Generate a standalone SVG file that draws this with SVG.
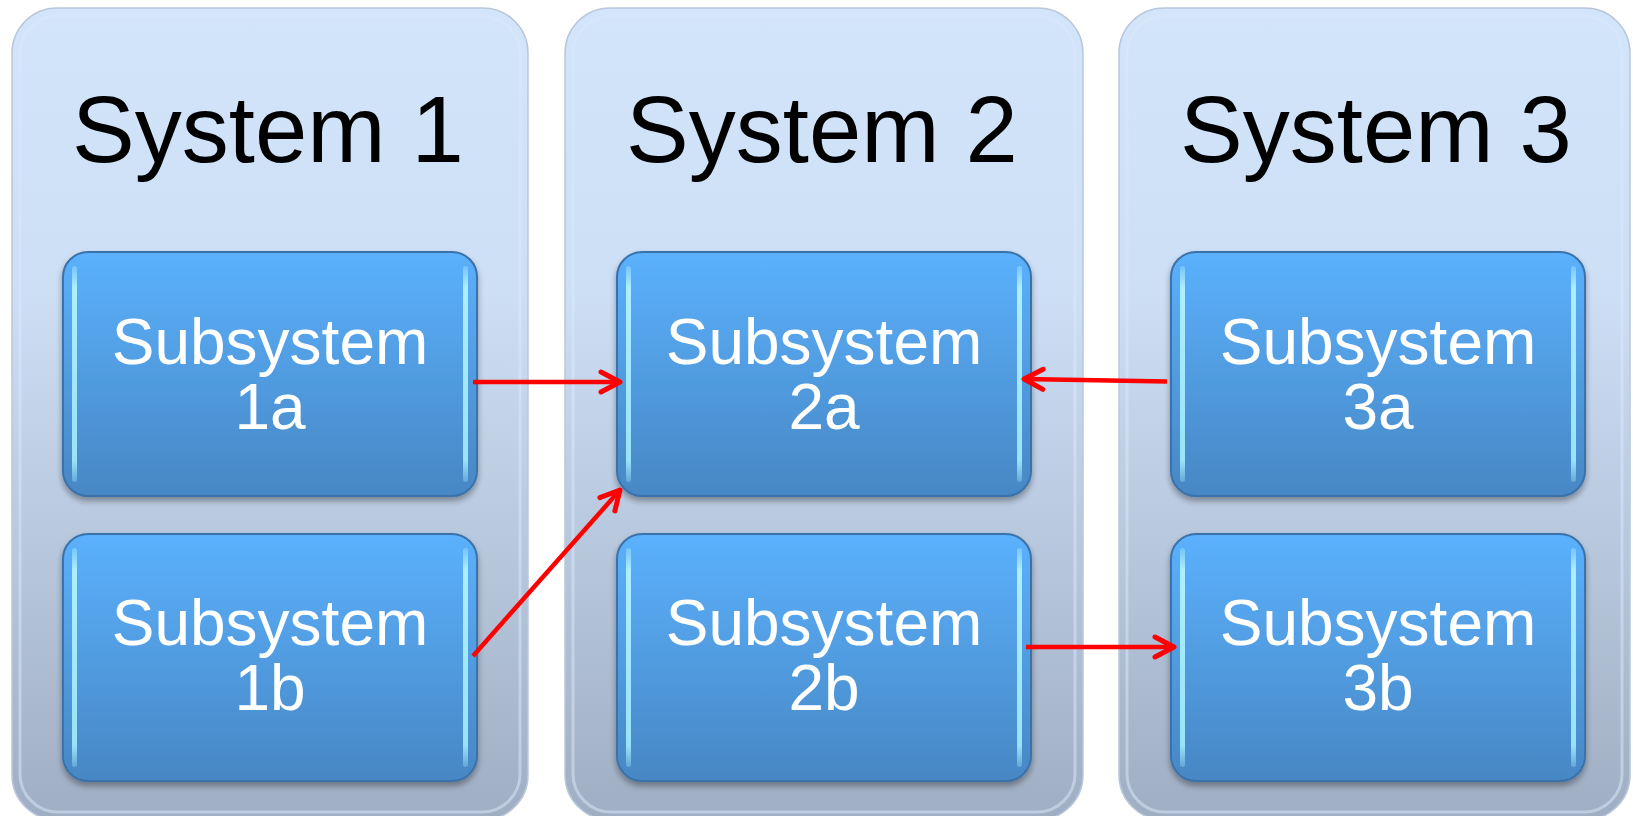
<svg xmlns="http://www.w3.org/2000/svg" width="1633" height="816" viewBox="0 0 1633 816">
  <defs>
    <linearGradient id="panelGrad" x1="0" y1="0" x2="0" y2="1">
      <stop offset="0" stop-color="#d3e5fb"/>
      <stop offset="0.35" stop-color="#cddff5"/>
      <stop offset="1" stop-color="#a0aec3"/>
    </linearGradient>
    <linearGradient id="boxGrad" x1="0" y1="0" x2="0" y2="1">
      <stop offset="0" stop-color="#5bb1fd"/>
      <stop offset="1" stop-color="#4787c4"/>
    </linearGradient>
    <linearGradient id="hlGrad" x1="0" y1="0" x2="0" y2="1">
      <stop offset="0" stop-color="#b6f6ff" stop-opacity="0.3"/>
      <stop offset="0.1" stop-color="#b6f6ff" stop-opacity="0.9"/>
      <stop offset="0.9" stop-color="#a2ecff" stop-opacity="0.9"/>
      <stop offset="1" stop-color="#a2ecff" stop-opacity="0.3"/>
    </linearGradient>
    <filter id="shadow" x="-10%" y="-10%" width="120%" height="125%">
      <feGaussianBlur in="SourceAlpha" stdDeviation="3"/>
      <feOffset dx="0" dy="4" result="b"/>
      <feComponentTransfer><feFuncA type="linear" slope="0.35"/></feComponentTransfer>
      <feMerge><feMergeNode/><feMergeNode in="SourceGraphic"/></feMerge>
    </filter>
    <marker id="arrow" viewBox="0 0 26 26" refX="22" refY="13" markerWidth="26" markerHeight="26" markerUnits="userSpaceOnUse" orient="auto">
      <path d="M3,3 L22,13 L3,23" fill="none" stroke="#ff0000" stroke-width="5" stroke-linecap="round" stroke-linejoin="round"/>
    </marker>
  </defs>
  <style>
    .panel { fill: url(#panelGrad); stroke: #b9c7da; stroke-width: 1.5; }
    .panelInner { fill: none; stroke: #dbe9fb; stroke-opacity: 0.5; stroke-width: 3; }
    .box { fill: url(#boxGrad); stroke: #3a72aa; stroke-width: 2; filter: url(#shadow); }
    .hl { fill: url(#hlGrad); }
    .title { font-family: "Liberation Sans", Arial, sans-serif; font-size: 94px; fill: #000; text-anchor: middle; }
    .label { font-family: "Liberation Sans", Arial, sans-serif; font-size: 64px; fill: #ffffff; text-anchor: middle; }
    .conn { fill: none; stroke: #ff0000; stroke-width: 4.5; marker-end: url(#arrow); }
  </style>
  <rect width="1633" height="816" fill="#ffffff"/>

  <g id="system1">
    <rect class="panel" x="12" y="8" width="516" height="812" rx="45"/>
    <rect class="panelInner" x="20" y="16" width="500" height="796" rx="38"/>
    <text class="title" x="268" y="162">System 1</text>
  </g>
  <g id="system2">
    <rect class="panel" x="565" y="8" width="518" height="812" rx="45"/>
    <rect class="panelInner" x="573" y="16" width="502" height="796" rx="38"/>
    <text class="title" x="822" y="162">System 2</text>
  </g>
  <g id="system3">
    <rect class="panel" x="1119" y="8" width="511" height="812" rx="45"/>
    <rect class="panelInner" x="1127" y="16" width="495" height="796" rx="38"/>
    <text class="title" x="1376" y="162">System 3</text>
  </g>

  <g id="sub1a">
    <rect class="box" x="63" y="252" width="414" height="244" rx="25"/>
    <rect class="hl" x="72" y="266" width="5" height="216" rx="2.5"/>
    <rect class="hl" x="463" y="266" width="5" height="216" rx="2.5"/>
    <text class="label" x="270" y="364">Subsystem</text>
    <text class="label" x="270" y="429">1a</text>
  </g>
  <g id="sub1b">
    <rect class="box" x="63" y="534" width="414" height="247" rx="25"/>
    <rect class="hl" x="72" y="548" width="5" height="219" rx="2.5"/>
    <rect class="hl" x="463" y="548" width="5" height="219" rx="2.5"/>
    <text class="label" x="270" y="645">Subsystem</text>
    <text class="label" x="270" y="710">1b</text>
  </g>
  <g id="sub2a">
    <rect class="box" x="617" y="252" width="414" height="244" rx="25"/>
    <rect class="hl" x="626" y="266" width="5" height="216" rx="2.5"/>
    <rect class="hl" x="1017" y="266" width="5" height="216" rx="2.5"/>
    <text class="label" x="824" y="364">Subsystem</text>
    <text class="label" x="824" y="429">2a</text>
  </g>
  <g id="sub2b">
    <rect class="box" x="617" y="534" width="414" height="247" rx="25"/>
    <rect class="hl" x="626" y="548" width="5" height="219" rx="2.5"/>
    <rect class="hl" x="1017" y="548" width="5" height="219" rx="2.5"/>
    <text class="label" x="824" y="645">Subsystem</text>
    <text class="label" x="824" y="710">2b</text>
  </g>
  <g id="sub3a">
    <rect class="box" x="1171" y="252" width="414" height="244" rx="25"/>
    <rect class="hl" x="1180" y="266" width="5" height="216" rx="2.5"/>
    <rect class="hl" x="1571" y="266" width="5" height="216" rx="2.5"/>
    <text class="label" x="1378" y="364">Subsystem</text>
    <text class="label" x="1378" y="429">3a</text>
  </g>
  <g id="sub3b">
    <rect class="box" x="1171" y="534" width="414" height="247" rx="25"/>
    <rect class="hl" x="1180" y="548" width="5" height="219" rx="2.5"/>
    <rect class="hl" x="1571" y="548" width="5" height="219" rx="2.5"/>
    <text class="label" x="1378" y="645">Subsystem</text>
    <text class="label" x="1378" y="710">3b</text>
  </g>

  <g id="connectors">
    <line class="conn" x1="473" y1="382" x2="620" y2="382"/>
    <line class="conn" x1="473" y1="656" x2="620" y2="490"/>
    <line class="conn" x1="1167" y1="381.5" x2="1024" y2="379"/>
    <line class="conn" x1="1026" y1="647" x2="1174" y2="647"/>
  </g>
</svg>
